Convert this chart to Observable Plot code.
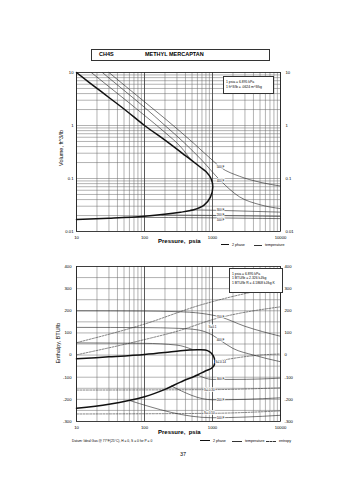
<!DOCTYPE html>
<html><head><meta charset="utf-8">
<script src="https://cdn.jsdelivr.net/npm/d3@7"></script>
<script src="https://cdn.jsdelivr.net/npm/@observablehq/plot@0.6"></script>
<style>
html,body{margin:0;padding:0;background:#fff;}
body{width:355px;height:480px;position:relative;overflow:hidden;font-family:"Liberation Sans",Arial,sans-serif;color:#000;}
.abs{position:absolute;white-space:nowrap;color:#000;}
#topc,#botc{position:absolute;left:0;}
#topc{top:0;}
#botc{top:250px;}
.leg{position:absolute;font-size:3.6px;white-space:nowrap;color:#000;}
.ln{position:absolute;height:0;}
</style></head><body>
<div class="abs" style="left:91px;top:49px;width:177px;height:10px;border:1px solid #333;"></div>
<div class="abs" style="left:99px;top:51px;font-size:5.5px;font-weight:bold;">CH4S</div>
<div class="abs" style="left:145px;top:51px;font-size:5.5px;font-weight:bold;">METHYL MERCAPTAN</div>
<div id="topc"></div>
<div id="botc"></div>
<div class="abs" style="left:61px;top:148px;font-size:5.5px;transform:translate(-50%,-50%) rotate(-90deg);">Volume, ft^3/lb</div>
<div class="abs" style="left:58px;top:343px;font-size:5.5px;transform:translate(-50%,-50%) rotate(-90deg);">Enthalpy, BTU/lb</div>
<div class="abs" style="left:158px;top:238px;font-size:6px;font-weight:bold;">Pressure,&nbsp; psia</div>
<div class="abs" style="left:158px;top:429px;font-size:6px;font-weight:bold;">Pressure,&nbsp; psia</div>
<div class="abs" style="left:223px;top:76px;width:49px;height:16px;border:0.8px solid #333;background:#fff;"></div>
<div class="abs" style="left:226px;top:80px;font-size:3.4px;line-height:5px;">1 psia = 6.895 kPa<br>1 ft^3/lb = .0624 m^3/kg</div>
<div class="abs" style="left:229px;top:268px;width:52px;height:23px;border:0.8px solid #333;background:#fff;"></div>
<div class="abs" style="left:232px;top:272px;font-size:3.4px;line-height:4.4px;">1 psia = 6.895 kPa<br>1 BTU/lb = 2.326 kJ/kg<br>1 BTU/lb R = 4.1868 kJ/kg K</div>
<div class="ln" style="left:221px;top:244px;width:8px;border-top:1.4px solid #111;"></div>
<div class="leg" style="left:232px;top:242.5px;">2 phase</div>
<div class="ln" style="left:254px;top:244.5px;width:8px;border-top:0.6px solid #333;"></div>
<div class="leg" style="left:265px;top:242.5px;">temperature</div>
<div class="ln" style="left:200px;top:440px;width:10px;border-top:1.4px solid #111;"></div>
<div class="leg" style="left:213px;top:438.5px;">2 phase</div>
<div class="ln" style="left:232px;top:440.5px;width:10px;border-top:0.6px solid #333;"></div>
<div class="leg" style="left:245px;top:438.5px;">temperature</div>
<div class="ln" style="left:266px;top:440.5px;width:10px;border-top:0.6px dashed #333;"></div>
<div class="leg" style="left:279px;top:438.5px;">entropy</div>
<div class="leg" style="left:72px;top:438.5px;font-size:3.3px;">Datum: Ideal Gas @ 77°F(25°C), H = 0, S = 0 for P = 0</div>
<div class="abs" style="left:180px;top:451px;font-size:5.5px;">37</div>
<script>
// ---------- axis ticks ----------
const pTicks = [10, 100, 1000, 10000];
const vTicks = [0.01, 0.1, 1, 10];
const vTickLabels = ["0.01", "0.1", "1", "10"];
const hTicks = [-300, -200, -100, 0, 100, 200, 300, 400];
const hGrid = [-300,-250,-200,-150,-100,-50,0,50,100,150,200,250,300,350,400];
const logGrid = [10,20,30,40,50,60,70,80,90,100,200,300,400,500,600,700,800,900,1000,2000,3000,4000,5000,6000,7000,8000,9000,10000];
const vGrid = [0.01,0.02,0.03,0.04,0.05,0.06,0.07,0.08,0.09,0.1,0.2,0.3,0.4,0.5,0.6,0.7,0.8,0.9,1,2,3,4,5,6,7,8,9,10];

// ---------- top chart: volume ----------
const satP = [10, 20, 50, 100, 200, 400, 665, 800, 950, 1010, 933, 745, 531, 338, 100, 30, 10];
const satV = [10, 5.0, 2.05, 1.0, 0.53, 0.27, 0.163, 0.135, 0.1, 0.069, 0.0444, 0.031, 0.0257, 0.0231, 0.0195, 0.0178, 0.0168];

const t300vP = [16.5, 30, 60, 100, 200, 350, 480];
const t300vV = [10, 5.4, 2.65, 1.55, 0.74, 0.38, 0.225];
const t400vP = [24, 50, 100, 200, 379, 700, 1312, 2500, 5000, 10000];
const t400vV = [10, 4.6, 2.2, 1.0, 0.48, 0.22, 0.091, 0.045, 0.032, 0.027];
const t500vP = [30, 60, 100, 200, 531, 1000, 1312, 2500, 5000, 10000];
const t500vV = [10, 4.8, 2.8, 1.35, 0.46, 0.22, 0.163, 0.11, 0.085, 0.072];
const t300lP = [480, 1000, 2000, 5000, 10000];
const t300lV = [0.0255, 0.0252, 0.0246, 0.0238, 0.0232];
const t200lP = [180, 1000, 3000, 10000];
const t200lV = [0.0205, 0.0201, 0.0197, 0.0192];
const t100lP = [50, 1000, 3000, 10000];
const t100lV = [0.0185, 0.0181, 0.0178, 0.0175];
const topLabP = [1312, 1312, 1312, 1312, 1312];
const topLabV = [0.163, 0.091, 0.0258, 0.0201, 0.0166];
const topLabT = ["500 F", "400 F", "300 F", "200 F", "100 F"];

// ---------- bottom chart: enthalpy ----------
const satP2 = [10, 30, 100, 200, 338, 600, 785, 900, 990, 1050, 1080, 1075, 1040, 960, 785, 600, 338, 200, 100, 30, 10];
const satH2 = [-17, -8, 3, 12, 20, 24, 23, 16, 4, -10, -25, -38, -50, -60, -72, -90, -122, -155, -188, -222, -240];

const h700P = [10, 100, 300, 700, 1312, 3000, 10000];
const h700H = [200, 199, 196, 188, 172, 130, 85];
const h400P = [10, 100, 300, 600, 1000, 1312, 2000, 4000, 10000];
const h400H = [125, 124, 121, 114, 90, 66, 30, 0, -30];
const h300P = [10, 100, 300, 500];
const h300H = [55, 53, 45, 26];
const h300lP = [600, 1000, 2000, 5000, 10000];
const h300lH = [-90, -110, -110, -108, -104];
const h200lP = [250, 1000, 3000, 10000];
const h200lH = [-140, -202, -200, -193];
const h100lP = [60, 1000, 3000, 10000];
const h100lH = [-205, -283, -280, -272];

const s1P = [10, 100, 665, 2000, 10000];
const s1H = [56, 140, 226, 265, 310];
const s2P = [10, 100, 338, 1000, 10000];
const s2H = [1, 70, 112, 160, 218];
const s3P = [1080, 2000, 5000, 10000];
const s3H = [-30, -15, 0, 5];
const s4P = [10, 1000, 10000];
const s4H = [-158, -156, -148];
const s5P = [10, 1000, 10000];
const s5H = [-266, -263, -252];

const botLabP = [1312, 1312, 1000, 1312, 1312, 1312, 1312, 900, 900];
const botLabH = [172, 66, 125, -110, -202, -283, -30, -156, -263];
const botLabT = ["700 F", "400 F", "S=0.1", "300 F", "200 F", "100 F", "S=-0.14", "S=-0.30", "S=-0.50"];

const font = "'Liberation Sans', Arial, sans-serif";
function xy(P, V) { return P.map((p, i) => ({x: p, y: V[i]})); }
function gridMarks(yGrid) {
  return [
    Plot.ruleX(logGrid, {stroke: "#666", strokeWidth: 0.5}),
    Plot.ruleY(yGrid, {stroke: "#666", strokeWidth: 0.5}),
    Plot.ruleX(pTicks, {stroke: "#333", strokeWidth: 0.7}),
    Plot.frame({stroke: "#222", strokeWidth: 0.8})
  ];
}
const thin = {x: "x", y: "y", stroke: "#222", strokeWidth: 0.6, curve: "monotone-x"};
const dash = {x: "x", y: "y", stroke: "#333", strokeWidth: 0.6, strokeDasharray: "2,1.3", curve: "monotone-x"};

const topPlot = Plot.plot({
  width: 355, height: 250,
  marginLeft: 76, marginRight: 75, marginTop: 72, marginBottom: 19,
  style: {background: "transparent", fontFamily: font, color: "#000"},
  x: {type: "log", domain: [10, 10000], axis: null},
  y: {type: "log", domain: [0.01, 10], axis: null},
  marks: [
    ...gridMarks(vGrid),
    Plot.text(pTicks, {x: d => d, y: () => 0.01, text: d => String(d), dy: 6, fontSize: 4.2, fill: "#000"}),
    Plot.text(vTicks, {x: () => 10, y: d => d, text: (d, i) => vTickLabels[i], dx: -3, textAnchor: "end", fontSize: 4.2, fill: "#000"}),
    Plot.text(vTicks, {x: () => 10000, y: d => d, text: (d, i) => vTickLabels[i], dx: 5, textAnchor: "start", fontSize: 4.2, fill: "#000"}),
    Plot.line(xy(t300vP, t300vV), thin),
    Plot.line(xy(t400vP, t400vV), thin),
    Plot.line(xy(t500vP, t500vV), thin),
    Plot.line(xy(t300lP, t300lV), thin),
    Plot.line(xy(t200lP, t200lV), thin),
    Plot.line(xy(t100lP, t100lV), thin),
    Plot.line(xy(satP, satV), {x: "x", y: "y", stroke: "#111", strokeWidth: 1.5, curve: "catmull-rom"}),
    Plot.text(topLabP.map((p, i) => ({x: p, y: topLabV[i], t: topLabT[i]})), {x: "x", y: "y", text: "t", fontSize: 3, fill: "#000", stroke: "white", strokeWidth: 1.5})
  ]
});
document.getElementById("topc").append(topPlot);

const botPlot = Plot.plot({
  width: 355, height: 190,
  marginLeft: 76, marginRight: 75, marginTop: 16, marginBottom: 19,
  style: {background: "transparent", fontFamily: font, color: "#000"},
  x: {type: "log", domain: [10, 10000], axis: null},
  y: {type: "linear", domain: [-300, 400], axis: null},
  marks: [
    ...gridMarks(hGrid),
    Plot.text(pTicks, {x: d => d, y: () => -300, text: d => String(d), dy: 6, fontSize: 4.2, fill: "#000"}),
    Plot.text(hTicks, {x: () => 10, y: d => d, text: d => String(d), dx: -5, textAnchor: "end", fontSize: 4.2, fill: "#000"}),
    Plot.text(hTicks, {x: () => 10000, y: d => d, text: d => String(d), dx: 4, textAnchor: "start", fontSize: 4.2, fill: "#000"}),
    Plot.line(xy(h700P, h700H), thin),
    Plot.line(xy(h400P, h400H), thin),
    Plot.line(xy(h300P, h300H), thin),
    Plot.line(xy(h300lP, h300lH), thin),
    Plot.line(xy(h200lP, h200lH), thin),
    Plot.line(xy(h100lP, h100lH), thin),
    Plot.line(xy(s1P, s1H), dash),
    Plot.line(xy(s2P, s2H), dash),
    Plot.line(xy(s3P, s3H), dash),
    Plot.line(xy(s4P, s4H), dash),
    Plot.line(xy(s5P, s5H), dash),
    Plot.line(xy(satP2, satH2), {x: "x", y: "y", stroke: "#111", strokeWidth: 1.5, curve: "catmull-rom"}),
    Plot.text(botLabP.map((p, i) => ({x: p, y: botLabH[i], t: botLabT[i]})), {x: "x", y: "y", text: "t", fontSize: 3, fill: "#000", stroke: "white", strokeWidth: 1.5})
  ]
});
document.getElementById("botc").append(botPlot);
</script>
</body></html>
